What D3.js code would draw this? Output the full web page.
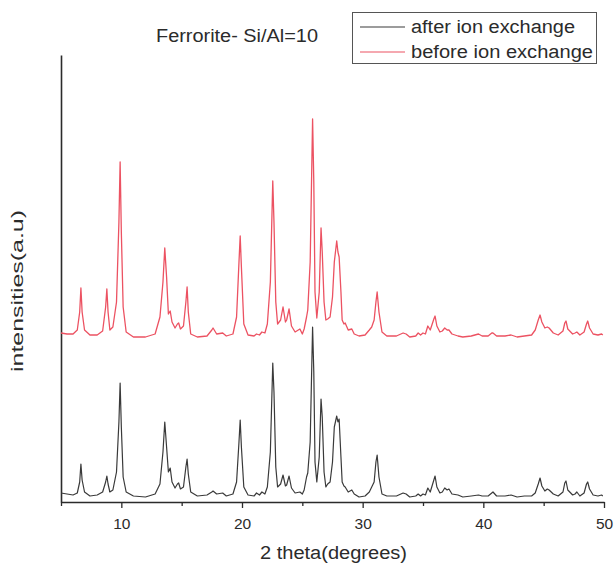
<!DOCTYPE html>
<html>
<head>
<meta charset="utf-8">
<script src="https://cdn.jsdelivr.net/npm/d3@7"></script>
<style>
  body { margin: 0; background: #fff; }
  svg { display: block; font-family: 'Liberation Sans', Arial, sans-serif; }
</style>
</head>
<body>
<div id="chart"></div>
<script>
// XRD patterns (intensity in arbitrary units, red is offset as plotted)
const twoTheta = [
  5.0, 5.5, 6.0, 6.35, 6.55, 6.65, 6.75, 6.95, 7.4, 8.0,
  8.45, 8.7, 8.8, 8.9, 9.05, 9.3, 9.6, 9.8, 9.9, 10.0,
  10.15, 10.4, 11, 12, 12.8, 13.2, 13.45, 13.6, 13.75, 13.9,
  14.05, 14.2, 14.45, 14.65, 14.75, 14.9, 15.15, 15.35, 15.45, 15.55,
  15.75, 16.3, 17.1, 17.5, 17.6, 17.9, 18.4, 18.7, 19.25, 19.55,
  19.75, 19.85, 19.95, 20.15, 20.5, 21.0, 21.2, 21.45, 21.65, 21.9,
  22.1, 22.35, 22.55, 22.65, 22.8, 22.95, 23.2, 23.4, 23.6, 23.7,
  23.9, 24.1, 24.4, 24.8, 25.0, 25.15, 25.35, 25.45, 25.65, 25.85,
  25.95, 26.05, 26.2, 26.4, 26.55, 26.65, 26.8, 26.95, 27.1, 27.3,
  27.5, 27.65, 27.85, 27.95, 28.05, 28.2, 28.3, 28.45, 28.55, 28.8,
  29.1, 29.3, 29.7, 30.2, 30.55, 30.75, 30.95, 31.1, 31.2, 31.35,
  31.6, 32.0, 32.8, 33.35, 33.6, 33.9, 34.4, 34.6, 34.8, 35.0,
  35.2, 35.4, 35.6, 35.9, 36.0, 36.15, 36.4, 36.6, 36.8, 37.0,
  37.15, 37.4, 37.9, 38.3, 39.0, 39.6, 39.9, 40.4, 40.7, 40.8,
  41.1, 41.8, 42.3, 42.8, 43.4, 44.0, 44.3, 44.55, 44.7, 44.85,
  45.1, 45.3, 45.45, 45.8, 46.2, 46.6, 46.75, 46.85, 47.0, 47.4,
  47.6, 47.75, 48.0, 48.35, 48.55, 48.65, 48.8, 49.1, 49.5, 49.8,
  49.9
]

const afterIon = [
  9, 8, 7, 9, 20, 38, 22, 10, 6, 7,
  10, 20, 26, 18, 10, 12, 30, 80, 119, 75,
  25, 10, 6, 5, 8, 18, 50, 80, 55, 30,
  34, 20, 14, 18, 19, 13, 15, 35, 43, 28,
  10, 6, 7, 10, 11, 8, 9, 6, 8, 20,
  60, 82, 55, 15, 7, 6, 9, 7, 10, 8,
  15, 50, 139, 110, 35, 15, 18, 27, 16, 17,
  26, 14, 9, 10, 8, 12, 25, 29, 60, 175,
  130, 40, 20, 45, 103, 85, 30, 15, 18, 20,
  40, 75, 86, 80, 83, 45, 20, 16, 15, 10,
  12, 8, 5, 6, 10, 15, 20, 40, 47, 25,
  8, 6, 6, 9, 8, 5, 6, 8, 6, 8,
  7, 14, 10, 22, 26, 15, 9, 10, 14, 12,
  13, 8, 7, 5, 6, 7, 6, 6, 9, 10,
  6, 6, 7, 5, 6, 6, 9, 18, 24, 16,
  11, 13, 12, 8, 6, 10, 19, 21, 12, 7,
  8, 10, 6, 9, 18, 20, 13, 7, 6, 7,
  6
]

const beforeIon = [
  169, 168, 168, 172, 190, 214, 190, 172, 167, 167,
  171, 195, 213, 190, 172, 175, 200, 280, 340, 270,
  195, 170, 165, 165, 168, 185, 220, 254, 225, 188,
  191, 180, 174, 178, 179, 173, 176, 200, 215, 190,
  168, 165, 166, 172, 174, 168, 169, 166, 168, 185,
  240, 266, 235, 178, 167, 166, 168, 167, 170, 169,
  178, 220, 321, 280, 200, 178, 182, 195, 180, 182,
  193, 176, 170, 173, 168, 173, 185, 192, 240, 383,
  320, 210, 184, 210, 274, 250, 200, 182, 183, 185,
  205, 240, 261, 250, 245, 210, 182, 178, 179, 172,
  173, 168, 166, 167, 172, 175, 182, 200, 210, 190,
  170, 166, 166, 169, 168, 165, 166, 169, 167, 169,
  168, 176, 172, 183, 186, 176, 170, 171, 174, 172,
  172, 168, 166, 165, 166, 168, 166, 166, 169, 169,
  166, 166, 167, 165, 166, 167, 172, 182, 187, 180,
  174, 175, 174, 169, 167, 171, 179, 181, 173, 168,
  169, 170, 167, 170, 178, 181, 174, 168, 167, 168,
  167
]

const seriesNames = ['after ion exchange', 'before ion exchange']
const seriesColors = ['#3a3a3a', '#ec5262']
const majorTicks = [10, 20, 30, 40, 50]
const minorTicks = [5, 15, 25, 35, 45]

const width = 615
const height = 566
const ink = '#2b2b2b'

const svg = d3.select('#chart')
  .append('svg')
  .attr('width', width)
  .attr('height', height)

const x = d3.scaleLinear().domain([5, 50]).range([61, 604])
const y = d3.scaleLinear().domain([0, 447]).range([502, 55])

// left axis: just the spine, no ticks
svg.append('g')
  .attr('transform', `translate(${x(5)},0)`)
  .call(d3.axisLeft(y).tickValues([]).tickSizeOuter(0))
  .select('.domain')
  .attr('stroke', ink)
  .attr('stroke-width', 1.6)

// bottom axis, minor then major ticks
svg.append('g')
  .attr('transform', `translate(0,${y(0)})`)
  .call(d3.axisBottom(x).tickValues(minorTicks).tickSize(4).tickSizeOuter(0).tickFormat(''))
  .call(g => g.select('.domain').remove())
  .call(g => g.selectAll('line').attr('stroke', ink).attr('stroke-width', 1.3))

const xAxis = svg.append('g')
  .attr('transform', `translate(0,${y(0)})`)
  .call(d3.axisBottom(x).tickValues(majorTicks).tickSize(6).tickSizeOuter(0).tickPadding(10))

xAxis.select('.domain').attr('stroke', ink).attr('stroke-width', 1.6)
xAxis.selectAll('line').attr('stroke', ink).attr('stroke-width', 1.3)
xAxis.selectAll('text')
  .attr('fill', ink)
  .style('font-size', '15.5px')
  .style('font-family', "'Liberation Sans', Arial, sans-serif")

// traces
const line = d3.line()
  .x(d => x(d[0]))
  .y(d => y(d[1]))

;[afterIon, beforeIon].forEach((vals, i) => {
  svg.append('path')
    .datum(twoTheta.map((t, k) => [t, vals[k]]))
    .attr('fill', 'none')
    .attr('stroke', seriesColors[i])
    .attr('stroke-width', i === 0 ? 1.2 : 1.3)
    .attr('stroke-linejoin', 'round')
    .attr('d', line)
})

// labels
svg.append('text')
  .attr('x', 156)
  .attr('y', 42)
  .attr('textLength', 162)
  .attr('lengthAdjust', 'spacingAndGlyphs')
  .attr('fill', ink)
  .style('font-size', '18px')
  .text('Ferrorite- Si/Al=10')

svg.append('text')
  .attr('x', 260)
  .attr('y', 559)
  .attr('textLength', 147)
  .attr('lengthAdjust', 'spacingAndGlyphs')
  .attr('fill', ink)
  .style('font-size', '18px')
  .text('2 theta(degrees)')

svg.append('text')
  .attr('transform', 'translate(23,372) rotate(-90)')
  .attr('textLength', 162)
  .attr('lengthAdjust', 'spacingAndGlyphs')
  .attr('fill', ink)
  .style('font-size', '17px')
  .text('intensities(a.u)')

// legend
const legend = svg.append('g')

legend.append('rect')
  .attr('x', 352.5)
  .attr('y', 12.5)
  .attr('width', 244)
  .attr('height', 51)
  .attr('fill', '#fff')
  .attr('stroke', '#555')
  .attr('stroke-width', 1)

const legendLens = [164, 182]
seriesNames.forEach((name, i) => {
  const ly = 27 + i * 25
  legend.append('line')
    .attr('x1', 360)
    .attr('x2', 405)
    .attr('y1', ly)
    .attr('y2', ly)
    .attr('stroke', seriesColors[i])
    .attr('stroke-width', 1.2)
  legend.append('text')
    .attr('x', 411)
    .attr('y', ly + 6)
    .attr('textLength', legendLens[i])
    .attr('lengthAdjust', 'spacingAndGlyphs')
    .attr('fill', ink)
    .style('font-size', '18px')
    .text(name)
})
</script>
</body>
</html>
